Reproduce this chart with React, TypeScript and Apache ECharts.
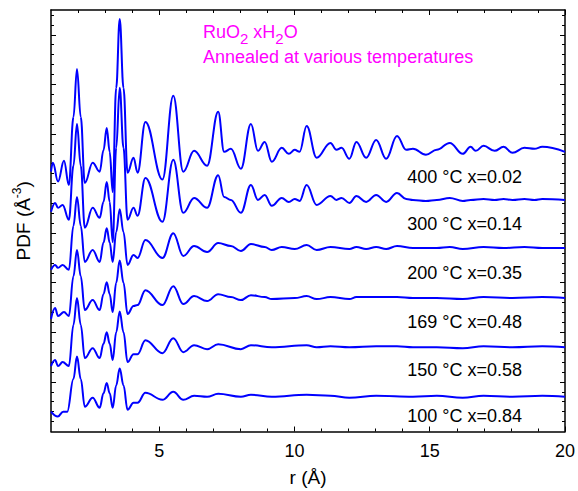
import React, { useEffect, useRef } from 'react';
import * as echarts from 'echarts';

const FONT = '"Liberation Sans", Arial, Helvetica, sans-serif';

// axis ranges and ticks
const rMin = 1;
const rMax = 20;
const yMin = 0;
const yMax = 8.5;
const xMajorTicks = [5, 10, 15, 20];
const xMinorTicks = [2, 3, 4, 6, 7, 8, 9, 11, 12, 13, 14, 16, 17, 18, 19];
const yMajorTicks = [1, 2, 3, 4, 5, 6, 7, 8];
const yMinorTicks = [
  0.2, 0.4, 0.6, 0.8, 1.2, 1.4, 1.6, 1.8, 2.2, 2.4, 2.6, 2.8, 3.2, 3.4, 3.6, 3.8,
  4.2, 4.4, 4.6, 4.8, 5.2, 5.4, 5.6, 5.8, 6.2, 6.4, 6.6, 6.8, 7.2, 7.4, 7.6, 7.8, 8.2, 8.4,
];

// samples (bottom to top)
const sampleLabels = [
  '100 °C x=0.84',
  '150 °C x=0.58',
  '169 °C x=0.48',
  '200 °C x=0.35',
  '300 °C x=0.14',
  '400 °C x=0.02',
];
const baselines = [0.7, 1.7, 2.69, 3.7, 4.67, 5.64];
const labelY = [0.31, 1.24, 2.21, 3.2, 4.18, 5.13];
const labelR = 14.15;

// PDF G(r), relative to each curve's baseline: [r (Å), G]
const pdf100: [number, number][] = [
  [1.0, -0.3], [1.25, -0.4], [1.45, -0.3], [1.6, -0.3], [1.83, 0.36], [1.96, 0.81], [2.1, 0.36],
  [2.25, -0.2], [2.54, -0.02], [2.8, -0.22], [2.94, 0.07], [3.06, 0.28], [3.17, 0.07], [3.28, -0.22],
  [3.41, 0.23], [3.54, 0.57], [3.68, 0.23], [3.83, -0.26], [4.05, -0.12], [4.2, -0.12], [4.49, 0.08],
  [5.12, -0.06], [5.52, 0.1], [5.89, -0.06], [6.29, 0.02], [6.77, 0.0], [7.18, 0.06], [8.02, 0.0],
  [8.39, 0.04], [9.16, 0.0], [10.45, 0.04], [11.33, 0.02], [12.03, -0.02], [13.02, 0.02], [14.38, 0.0],
  [15.26, 0.02], [16.22, -0.02], [16.99, 0.02], [18.06, 0.0], [19.16, 0.02], [20.0, 0.0],
];
const pdf150: [number, number][] = [
  [1.0, -0.38], [1.15, -0.26], [1.26, -0.38], [1.43, -0.3], [1.66, -0.38], [1.83, 0.45], [1.96, 0.99],
  [2.1, 0.45], [2.25, -0.22], [2.54, -0.02], [2.8, -0.22], [2.94, 0.07], [3.06, 0.3], [3.17, 0.07],
  [3.28, -0.26], [3.41, 0.3], [3.54, 0.72], [3.68, 0.3], [3.83, -0.3], [4.05, -0.14], [4.2, -0.14],
  [4.49, 0.14], [5.12, -0.12], [5.52, 0.18], [5.89, -0.1], [6.29, 0.04], [6.77, -0.04], [7.18, 0.06],
  [8.02, -0.04], [8.39, 0.04], [9.16, 0.0], [10.45, 0.04], [10.82, 0.0], [11.33, 0.02], [12.03, 0.0],
  [13.02, 0.02], [13.79, 0.02], [14.38, 0.0], [15.26, 0.0], [16.22, -0.02], [16.99, 0.02], [18.06, 0.0],
  [19.16, 0.02], [20.0, 0.0],
];
const pdf169: [number, number][] = [
  [1.0, -0.42], [1.15, -0.2], [1.26, -0.36], [1.48, -0.28], [1.66, -0.36], [1.83, 0.44], [1.96, 0.97],
  [2.1, 0.44], [2.25, -0.24], [2.54, -0.04], [2.8, -0.24], [2.94, 0.08], [3.06, 0.32], [3.17, 0.08],
  [3.28, -0.28], [3.41, 0.31], [3.54, 0.76], [3.68, 0.31], [3.83, -0.32], [4.05, -0.16], [4.2, -0.14],
  [4.49, 0.16], [5.12, -0.14], [5.52, 0.24], [5.89, -0.12], [6.29, 0.04], [6.77, -0.06], [7.18, 0.08],
  [7.65, 0.02], [8.02, -0.04], [8.39, 0.06], [8.9, 0.02], [9.16, -0.02], [10.01, 0.0], [10.45, 0.04],
  [10.82, -0.02], [11.33, 0.02], [12.03, -0.02], [12.29, 0.02], [13.02, 0.02], [13.79, 0.02], [14.38, 0.0],
  [15.26, 0.0], [16.22, -0.02], [16.99, 0.02], [18.06, 0.0], [19.16, 0.02], [20.0, 0.0],
];
const pdf200: [number, number][] = [
  [1.0, -0.44], [1.15, -0.34], [1.26, -0.4], [1.43, -0.34], [1.66, -0.44], [1.83, 0.45], [1.96, 1.03],
  [2.1, 0.45], [2.25, -0.28], [2.54, -0.04], [2.8, -0.28], [2.94, 0.11], [3.06, 0.4], [3.17, 0.11],
  [3.28, -0.28], [3.41, 0.32], [3.54, 0.78], [3.68, 0.32], [3.83, -0.34], [4.05, -0.14], [4.2, -0.2],
  [4.49, 0.16], [5.12, -0.2], [5.52, 0.3], [5.89, -0.16], [6.29, 0.04], [6.77, -0.08], [7.18, 0.1],
  [7.65, 0.04], [8.02, -0.06], [8.39, 0.08], [8.9, 0.02], [9.16, -0.04], [9.53, 0.02], [10.01, -0.02],
  [10.45, 0.06], [10.82, -0.04], [11.33, 0.02], [12.03, -0.02], [12.29, 0.02], [12.65, -0.02], [13.02, 0.02],
  [13.39, -0.02], [13.79, 0.04], [14.38, 0.0], [15.26, 0.0], [15.74, 0.02], [16.22, -0.02], [16.99, 0.02],
  [17.73, 0.0], [18.5, 0.02], [19.16, 0.0], [20.0, 0.0],
];
const pdf300: [number, number][] = [
  [1.0, -0.24], [1.15, -0.06], [1.26, -0.16], [1.43, -0.1], [1.66, -0.4], [1.83, 0.69], [1.96, 1.53],
  [2.1, 0.69], [2.25, -0.56], [2.54, -0.16], [2.8, -0.36], [2.94, -0.04], [3.06, 0.36], [3.17, -0.04],
  [3.28, -0.85], [3.41, 1.05], [3.54, 2.26], [3.68, 1.05], [3.83, -0.4], [4.05, -0.16], [4.2, -0.32],
  [4.49, 0.44], [5.12, -0.44], [5.52, 0.81], [5.89, -0.26], [6.29, 0.04], [6.77, -0.16], [7.18, 0.5],
  [7.4, 0.06], [7.65, 0.0], [8.02, -0.26], [8.39, 0.3], [8.65, 0.0], [8.9, 0.1], [9.16, -0.12],
  [9.53, 0.04], [9.79, -0.04], [10.01, 0.02], [10.19, -0.02], [10.45, 0.3], [10.82, -0.1], [11.33, 0.08],
  [11.55, 0.0], [11.74, 0.04], [12.03, -0.06], [12.29, 0.08], [12.65, -0.04], [13.02, 0.1], [13.39, -0.04],
  [13.79, 0.14], [14.13, 0.02], [14.38, 0.0], [14.86, -0.02], [15.26, 0.0], [15.74, 0.04], [16.22, -0.02],
  [16.51, 0.0], [16.99, 0.02], [17.4, 0.0], [17.73, 0.02], [18.06, 0.0], [18.5, 0.02], [18.87, 0.0],
  [19.16, 0.02], [20.0, 0.0],
];
const pdf400: [number, number][] = [
  [1.0, -0.4], [1.07, -0.22], [1.26, -0.6], [1.48, -0.18], [1.66, -0.67], [1.83, 0.7], [1.96, 1.67],
  [2.1, 0.7], [2.25, -0.63], [2.54, -0.22], [2.8, -0.4], [2.94, 0.03], [3.06, 0.48], [3.17, 0.0],
  [3.28, -0.81], [3.41, 1.29], [3.54, 2.68], [3.68, 1.29], [3.83, -0.42], [4.05, -0.12], [4.2, -0.42],
  [4.49, 0.6], [5.12, -0.56], [5.52, 1.13], [5.89, -0.4], [6.29, 0.02], [6.77, -0.28], [7.18, 0.81],
  [7.4, 0.0], [7.65, 0.06], [8.02, -0.34], [8.39, 0.56], [8.65, 0.02], [8.9, 0.2], [9.16, -0.2],
  [9.53, 0.08], [9.79, -0.04], [10.01, 0.04], [10.19, 0.0], [10.45, 0.52], [10.82, -0.12], [11.33, 0.18],
  [11.55, 0.04], [11.74, 0.08], [12.03, -0.14], [12.29, 0.2], [12.65, -0.12], [13.02, 0.24], [13.39, -0.14],
  [13.79, 0.32], [14.13, 0.04], [14.38, 0.06], [14.86, -0.06], [15.26, 0.04], [15.74, 0.18], [16.22, -0.04],
  [16.51, 0.1], [16.7, 0.02], [16.99, 0.12], [17.4, 0.02], [17.73, 0.1], [18.06, -0.02], [18.5, 0.08],
  [18.87, 0.06], [19.16, 0.1], [20.0, 0.0],
];
const pdfCurves = [pdf100, pdf150, pdf169, pdf200, pdf300, pdf400];

const BLACK = '#000000';
const BLUE = '#0000FF';
const MAGENTA = '#FF00FF';

function xAxisDef(position: string, ticks: number[], len: number, showLine: boolean, withLabels: boolean) {
  return {
    type: 'value',
    position,
    min: rMin,
    max: rMax,
    axisLine: { show: showLine, onZero: false, lineStyle: { color: BLACK, width: 1.5 } },
    axisTick: { show: true, inside: true, length: len, customValues: ticks, lineStyle: { color: BLACK, width: 1 } },
    axisLabel: withLabels
      ? { show: true, customValues: ticks, fontSize: 18, color: BLACK, fontFamily: FONT, margin: 10 }
      : { show: false },
    splitLine: { show: false },
    ...(withLabels
      ? {
          name: 'r (Å)',
          nameLocation: 'middle',
          nameGap: 36,
          nameTextStyle: { fontSize: 19, color: BLACK, fontFamily: FONT },
        }
      : {}),
  };
}

function yAxisDef(position: string, ticks: number[], len: number, showLine: boolean, withName: boolean) {
  return {
    type: 'value',
    position,
    min: yMin,
    max: yMax,
    axisLine: { show: showLine, onZero: false, lineStyle: { color: BLACK, width: 1.5 } },
    axisTick: { show: true, inside: true, length: len, customValues: ticks, lineStyle: { color: BLACK, width: 1 } },
    axisLabel: { show: false },
    splitLine: { show: false },
    ...(withName
      ? {
          name: '{a|PDF (Å}{b|-3}{a|)}',
          nameLocation: 'middle',
          nameGap: 16,
          nameRotate: 90,
          nameTextStyle: {
            color: BLACK,
            fontFamily: FONT,
            fontSize: 19,
            rich: {
              a: { fontSize: 19, color: BLACK, fontFamily: FONT, verticalAlign: 'middle' },
              b: { fontSize: 12, color: BLACK, fontFamily: FONT, verticalAlign: 'middle', padding: [0, 0, 12, 0] },
            },
          },
        }
      : {}),
  };
}

export default function App() {
  const ref = useRef<HTMLDivElement>(null);

  useEffect(() => {
    document.body.style.margin = '0';
    if (!ref.current) return;
    const chart = echarts.init(ref.current, undefined, { renderer: 'svg' });

    const curveSeries = pdfCurves.map((curve, i) => ({
      type: 'line',
      name: sampleLabels[i],
      xAxisIndex: 0,
      yAxisIndex: 0,
      data: curve.map(([r, g]) => [r, g + baselines[i]]),
      showSymbol: false,
      symbol: 'none',
      smooth: 0.4,
      smoothMonotone: 'x',
      lineStyle: { color: BLUE, width: 2 },
      silent: true,
      z: 3,
    }));

    const labelSeries = {
      type: 'scatter',
      xAxisIndex: 0,
      yAxisIndex: 0,
      symbolSize: 1,
      itemStyle: { color: 'rgba(0,0,0,0)' },
      silent: true,
      z: 5,
      data: sampleLabels.map((t, i) => ({ name: t, value: [labelR, labelY[i]] })),
      label: {
        show: true,
        position: 'right',
        distance: 0,
        formatter: '{b}',
        fontSize: 18,
        color: BLACK,
        opacity: 1,
        textBorderWidth: 0,
        fontFamily: FONT,
      },
    };

    chart.setOption({
      animation: false,
      backgroundColor: '#ffffff',
      grid: { left: 51, right: 13, top: 10, bottom: 59.5, containLabel: false, outerBoundsMode: 'none' },
      xAxis: [
        xAxisDef('bottom', xMajorTicks, 5, true, true),
        xAxisDef('bottom', xMinorTicks, 3, false, false),
        xAxisDef('top', xMajorTicks, 5, true, false),
        xAxisDef('top', xMinorTicks, 3, false, false),
      ],
      yAxis: [
        yAxisDef('left', yMajorTicks, 5, true, true),
        yAxisDef('left', yMinorTicks, 3, false, false),
        yAxisDef('right', yMajorTicks, 5, true, false),
        yAxisDef('right', yMinorTicks, 3, false, false),
      ],
      graphic: [
        {
          type: 'text',
          x: 203,
          y: 32,
          silent: true,
          style: {
            text: '{n|RuO}{s|2}{n| xH}{s|2}{n|O}',
            verticalAlign: 'middle',
            fill: MAGENTA,
            rich: {
              n: { fontSize: 18, fill: MAGENTA, fontFamily: FONT, verticalAlign: 'middle' },
              s: { fontSize: 15, fill: MAGENTA, fontFamily: FONT, verticalAlign: 'middle', padding: [12, 0, 0, 0] },
            },
          },
        },
        {
          type: 'text',
          x: 203,
          y: 57,
          silent: true,
          style: {
            text: 'Annealed at various temperatures',
            fontSize: 18,
            fontFamily: FONT,
            fill: MAGENTA,
            verticalAlign: 'middle',
          },
        },
      ],
      series: [...curveSeries, labelSeries],
    });

    return () => {
      chart.dispose();
    };
  }, []);

  return <div ref={ref} style={{ width: 578, height: 491 }} />;
}
